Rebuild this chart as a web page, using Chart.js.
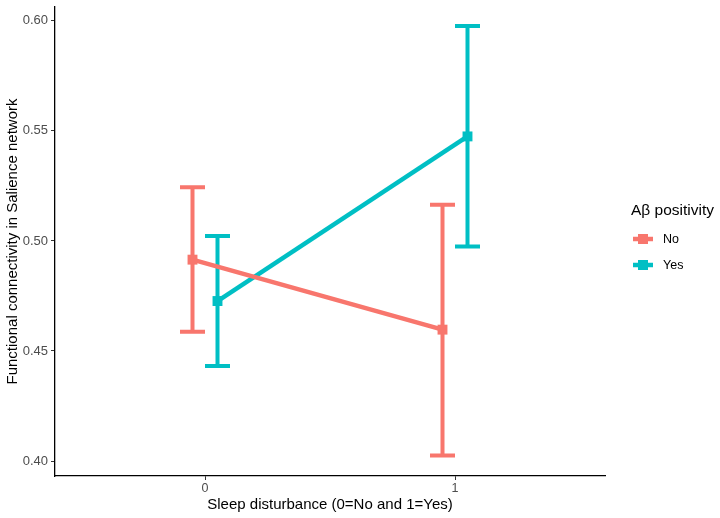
<!DOCTYPE html>
<html>
<head>
<meta charset="utf-8">
<script src="https://cdn.jsdelivr.net/npm/chart.js@4.4.0/dist/chart.umd.min.js"></script>
<style>
  html, body { margin: 0; padding: 0; background: #fff; }
  #wrap { width: 720px; height: 518px; }
</style>
</head>
<body>
<div id="wrap"><canvas id="chart" width="720" height="518"></canvas></div>
<script>
// data
const categories = [0, 1];
const xTickLabels = ['0', '1'];
const yTickValues = [0.40, 0.45, 0.50, 0.55, 0.60];

const noMean = [0.4915, 0.4597];
const noLower = [0.4587, 0.4025];
const noUpper = [0.5244, 0.5165];

const yesMean = [0.4727, 0.5475];
const yesLower = [0.4432, 0.4975];
const yesUpper = [0.5022, 0.5977];

const dodge = 0.05;     // half of position_dodge width
const capHalf = 0.05;   // half errorbar width
const FONT = "'Liberation Sans', Arial, Helvetica, sans-serif";

const groups = [
  { label: 'No', color: '#F8766D', mean: noMean, lower: noLower, upper: noUpper, offset: -dodge },
  { label: 'Yes', color: '#00BFC4', mean: yesMean, lower: yesLower, upper: yesUpper, offset: dodge }
];

// error bars drawn with the chart's scales
const errorBars = {
  id: 'errorBars',
  beforeDatasetsDraw(chart) {
    const { ctx, scales: { x, y } } = chart;
    ctx.save();
    ctx.lineWidth = 4;
    ctx.lineCap = 'butt';
    groups.forEach(g => {
      ctx.strokeStyle = g.color;
      categories.forEach((c, i) => {
        const cx = x.getPixelForValue(c + g.offset);
        const xl = x.getPixelForValue(c + g.offset - capHalf);
        const xr = x.getPixelForValue(c + g.offset + capHalf);
        const yl = y.getPixelForValue(g.lower[i]);
        const yu = y.getPixelForValue(g.upper[i]);
        ctx.beginPath();
        ctx.moveTo(cx, yl); ctx.lineTo(cx, yu);
        ctx.moveTo(xl, yl); ctx.lineTo(xr, yl);
        ctx.moveTo(xl, yu); ctx.lineTo(xr, yu);
        ctx.stroke();
      });
    });
    ctx.restore();
  }
};

// ggplot-like legend on the right
const sideLegend = {
  id: 'sideLegend',
  afterDraw(chart) {
    const ctx = chart.ctx;
    ctx.save();
    ctx.fillStyle = '#000';
    ctx.textBaseline = 'middle';
    ctx.textAlign = 'left';
    ctx.font = '15.5px ' + FONT;
    ctx.fillText('A\u03b2 positivity', 631, 211);
    ctx.font = '12.5px ' + FONT;
    groups.forEach((g, i) => {
      const ky = 239 + i * 26;
      ctx.strokeStyle = g.color;
      ctx.lineWidth = 4.5;
      ctx.beginPath();
      ctx.moveTo(633, ky); ctx.lineTo(653, ky);
      ctx.stroke();
      ctx.fillStyle = g.color;
      ctx.fillRect(638, ky - 5, 10, 10);
      ctx.fillStyle = '#000';
      ctx.fillText(g.label, 663, ky + 1);
    });
    ctx.restore();
  }
};

const datasets = groups.map(g => ({
  label: g.label,
  data: categories.map((c, i) => ({ x: c + g.offset, y: g.mean[i] })),
  borderColor: g.color,
  backgroundColor: g.color,
  borderWidth: 4.5,
  pointStyle: 'rect',
  pointRadius: 7,
  pointBorderWidth: 0,
  pointHoverRadius: 7,
  tension: 0
}));

new Chart(document.getElementById('chart'), {
  type: 'line',
  data: { datasets },
  plugins: [errorBars, sideLegend],
  options: {
    responsive: false,
    animation: false,
    events: [],
    layout: { padding: { top: 0, right: 115, left: 0, bottom: 0 } },
    plugins: { legend: { display: false }, tooltip: { enabled: false } },
    scales: {
      x: {
        type: 'linear',
        min: -0.6,
        max: 1.6,
        afterFit(scale) { scale.height = 42; scale.paddingLeft = 0; scale.paddingRight = 0; },
        afterBuildTicks(scale) { scale.ticks = categories.map(v => ({ value: v })); },
        ticks: {
          color: '#4D4D4D',
          font: { family: FONT, size: 12.5 },
          padding: 1,
          callback: (v) => xTickLabels[categories.indexOf(v)]
        },
        grid: { drawOnChartArea: false, drawTicks: true, tickLength: 4, tickColor: '#333', tickWidth: 1 },
        border: { display: true, color: '#000', width: 1.3 },
        title: {
          display: true,
          text: 'Sleep disturbance (0=No and 1=Yes)',
          color: '#000',
          font: { family: FONT, size: 15 },
          padding: { top: 0, bottom: 4 }
        }
      },
      y: {
        type: 'linear',
        min: 0.3932,
        max: 0.6063,
        afterFit(scale) { scale.width = 55; scale.paddingTop = 0; scale.paddingBottom = 0; },
        afterBuildTicks(scale) { scale.ticks = yTickValues.map(v => ({ value: v })); },
        ticks: {
          color: '#4D4D4D',
          font: { family: FONT, size: 13 },
          padding: 3,
          callback: (v) => v.toFixed(2)
        },
        grid: { drawOnChartArea: false, drawTicks: true, tickLength: 4, tickColor: '#333', tickWidth: 1 },
        border: { display: true, color: '#000', width: 1.3 },
        title: {
          display: true,
          text: 'Functional connectivity in Salience network',
          color: '#000',
          font: { family: FONT, size: 15 },
          padding: { top: 4, bottom: 0 }
        }
      }
    }
  }
});
</script>
</body>
</html>
